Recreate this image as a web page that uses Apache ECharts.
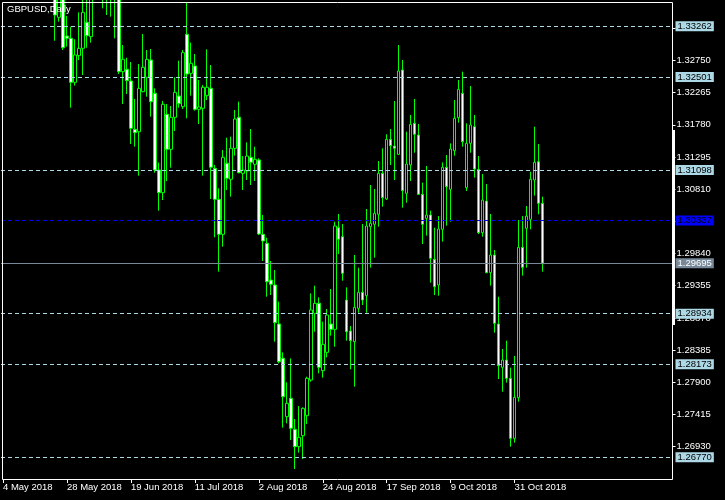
<!DOCTYPE html>
<html>
<head>
<meta charset="utf-8">
<script src="https://cdn.jsdelivr.net/npm/echarts@6/dist/echarts.min.js"></script>
<style>html,body{margin:0;padding:0;background:#000;}#c{width:725px;height:500px;}</style>
</head>
<body>
<div id="c"></div>
<script>
// ---- data (GBPUSD daily, weekdays from 4 May 2018) ----
const openV = [1.3525,1.3530,1.3545,1.3565,1.3530,1.3550,1.3540,1.3565,1.3500,1.3490,1.3510,1.3470,1.3445,1.3420,1.33398,1.3378,1.33117,1.33082,1.32419,1.32821,
1.32931,1.33323,1.33107,1.3372,1.3410,1.3405,1.3412,1.3378,1.3368,1.3402,1.32580,1.32615,1.32439,1.31711,1.31676,1.32278,1.32494,1.32755,1.32253,1.31098,
1.30757,1.31937,1.31410,1.31892,1.32213,1.32052,1.33142,1.32554,1.32665,1.32012,1.32027,1.32218,1.32328,1.31123,1.30656,1.30129,1.31199,1.30958,1.31425,1.31892,
1.31048,1.31083,1.31289,1.31184,1.31249,1.30129,1.29994,1.29441,1.29366,1.28779,1.28261,1.27383,1.27659,1.27192,1.26931,1.27097,1.27398,1.27935,1.28939,1.29090,
1.28076,1.28352,1.28779,1.28698,1.30230,1.30094,1.29140,1.28673,1.28513,1.29015,1.29256,1.29205,1.30245,1.30280,1.30431,1.31048,1.30662,1.31560,1.31460,1.31334,
1.32605,1.30747,1.31174,1.31801,1.31626,1.30732,1.30370,1.30421,1.29753,1.29366,1.30205,1.31139,1.30807,1.31390,1.31887,1.32253,1.30832,1.31500,1.31751,1.31108,
1.30154,1.30631,1.29552,1.29818,1.28779,1.28126,1.28236,1.27960,1.27056,1.27669,1.29933,1.30220,1.30355,1.30948,1.31224,1.30596];
const highV = [1.3570,1.3560,1.3600,1.3590,1.3610,1.3605,1.3600,1.3575,1.3520,1.3530,1.3525,1.3480,1.3460,1.3430,1.3392,1.3395,1.33418,1.33257,1.33067,1.33473,
1.3372,1.3368,1.3385,1.3420,1.3472,1.3435,1.3425,1.3408,1.3412,1.3408,1.32981,1.32790,1.32725,1.32168,1.32695,1.33147,1.32906,1.32921,1.32328,1.31209,
1.32138,1.32093,1.32062,1.32494,1.32745,1.32906,1.33625,1.33016,1.32846,1.32454,1.32379,1.32916,1.32680,1.31174,1.30822,1.31400,1.31585,1.31600,1.32002,1.32128,
1.31309,1.31515,1.31716,1.31450,1.31274,1.30421,1.30079,1.29728,1.29592,1.29115,1.28352,1.27900,1.28261,1.27348,1.27543,1.27523,1.27985,1.29241,1.29356,1.29180,
1.28814,1.29005,1.29306,1.30320,1.30436,1.30285,1.29331,1.28749,1.29818,1.29627,1.30285,1.30511,1.30872,1.30812,1.31234,1.31425,1.31636,1.31716,1.32138,1.32981,
1.32755,1.31676,1.31927,1.32168,1.31791,1.30908,1.31159,1.30486,1.30230,1.30405,1.31214,1.31324,1.31500,1.32153,1.32454,1.32580,1.31801,1.32364,1.31927,1.31309,
1.31038,1.30887,1.30436,1.29893,1.29190,1.28402,1.28528,1.28121,1.28297,1.30345,1.30405,1.30556,1.31073,1.31751,1.31490,1.30697];
const lowV = [1.3485,1.3500,1.3510,1.3460,1.3480,1.3500,1.3520,1.3455,1.3450,1.3470,1.3450,1.3410,1.3390,1.33046,1.33333,1.32906,1.32956,1.32037,1.32369,1.32755,
1.32529,1.32941,1.33016,1.3366,1.3390,1.33533,1.33433,1.33408,1.33082,1.32544,1.32093,1.32243,1.31490,1.31450,1.31013,1.32270,1.32203,1.31902,1.31058,1.30486,
1.30646,1.30933,1.31133,1.31686,1.32037,1.32017,1.31877,1.32218,1.31992,1.31791,1.31013,1.32153,1.30662,1.30084,1.29567,1.29943,1.30797,1.30697,1.31314,1.31048,
1.30797,1.30948,1.30872,1.30933,1.30119,1.29728,1.29190,1.29215,1.28513,1.28186,1.27217,1.27282,1.27031,1.26595,1.26841,1.26745,1.27272,1.27910,1.28663,1.28035,
1.27970,1.28277,1.28603,1.28437,1.29833,1.29431,1.28528,1.28096,1.27835,1.28949,1.29065,1.28949,1.29627,1.29778,1.30245,1.30546,1.30646,1.31174,1.30948,1.31324,
1.30531,1.30606,1.30933,1.31359,1.30722,1.29984,1.30109,1.29401,1.29215,1.29205,1.30019,1.30260,1.30320,1.31314,1.31811,1.31450,1.30782,1.31359,1.30983,1.30134,
1.30094,1.29545,1.29356,1.28648,1.27950,1.27759,1.27895,1.26931,1.26991,1.27609,1.29507,1.29627,1.30205,1.30712,1.30431,1.29567];
const closeV = [1.3530,1.3545,1.3565,1.3530,1.3550,1.3540,1.3565,1.3500,1.3490,1.3510,1.3470,1.3445,1.3420,1.33433,1.3378,1.32941,1.33082,1.32419,1.32831,1.32931,
1.33473,1.33122,1.3372,1.3410,1.3405,1.3412,1.3378,1.3368,1.3402,1.32580,1.32765,1.32444,1.31726,1.31661,1.32328,1.32645,1.32765,1.32128,1.31098,1.30757,
1.32088,1.31410,1.31892,1.32268,1.32098,1.32866,1.32544,1.32705,1.32012,1.32047,1.32344,1.32344,1.31139,1.30656,1.30129,1.31289,1.30973,1.31425,1.31867,1.31058,
1.31098,1.31309,1.31214,1.31259,1.30134,1.30029,1.29416,1.29376,1.28799,1.28211,1.27684,1.27584,1.27207,1.26931,1.27071,1.27508,1.27960,1.28990,1.29090,1.28126,
1.28472,1.28914,1.28698,1.30255,1.30054,1.29542,1.28663,1.28528,1.29030,1.29256,1.29140,1.30255,1.30295,1.30446,1.31048,1.30682,1.31560,1.31465,1.31425,1.32590,
1.30787,1.31189,1.31786,1.31636,1.30732,1.30280,1.30421,1.29768,1.29341,1.30210,1.31139,1.30847,1.31415,1.31877,1.32313,1.31525,1.31500,1.31776,1.31113,1.30154,
1.30646,1.29552,1.29818,1.28789,1.28151,1.28236,1.27960,1.27056,1.27674,1.29933,1.29632,1.30405,1.30958,1.31214,1.30596,1.29695];

const yTicks = [1.26930,1.27415,1.27900,1.28385,1.28870,1.29355,1.29840,1.30325,1.30810,1.31295,1.31780,1.32265,1.32750,1.33235];
const pivotLevels = [1.33262,1.32501,1.31098,1.28934,1.28173,1.26770];
const blueLevel = 1.30337;
const bidLevel = 1.29695;
const yMin = 1.26444, yMax = 1.33629;
const totalSlots = 168;

// categories: trading weekdays starting 4 May 2018, then empty shift area
const MONTHS = ['Jan','Feb','Mar','Apr','May','Jun','Jul','Aug','Sep','Oct','Nov','Dec'];
const categories = [];
{
  const d = new Date(Date.UTC(2018,4,4));
  while (categories.length < openV.length) {
    const wd = d.getUTCDay();
    if (wd !== 0 && wd !== 6) categories.push(d.getUTCDate()+' '+MONTHS[d.getUTCMonth()]+' '+d.getUTCFullYear());
    d.setUTCDate(d.getUTCDate()+1);
  }
  while (categories.length < totalSlots) categories.push('');
}
const ohlc = openV.map((o,i)=>[o, closeV[i], lowV[i], highV[i]]);

const FONT = 'Liberation Sans';
const FS = 9.5;
function lvl(v, color, textColor, dashed){
  return {
    yAxis: v,
    lineStyle: {color: color, width: 1, type: dashed ? [4,3] : 'solid'},
    label: {
      show: true, position: 'end', distance: 3,
      formatter: () => v.toFixed(5),
      color: textColor, backgroundColor: color,
      fontSize: FS, fontFamily: FONT, lineHeight: 10, padding: [0,2,0,2]
    }
  };
}
const lineData = pivotLevels.map(v=>lvl(v,'#ADD8E6','#000',true))
  .concat([lvl(blueLevel,'#0000FF','#000',true), lvl(bidLevel,'#778899','#fff',false)]);

const showIdx = (i,v) => i % 16 === 0 && v !== '';
const chart = echarts.init(document.getElementById('c'), null, {renderer:'canvas'});
chart.setOption({
  backgroundColor: '#000',
  animation: false,
  title: {text:'GBPUSD,Daily', left:7, top:4, padding:0,
    textStyle:{color:'#fff', fontSize:FS, fontWeight:'normal', fontFamily:FONT}},
  grid: {left:0.5, right:52.5, top:2, bottom:21, show:false},
  xAxis: {
    type:'category', data: categories, boundaryGap: true,
    axisLine:{show:false},
    axisTick:{show:true, length:4, alignWithLabel:true, interval: showIdx, lineStyle:{color:'#fff'}},
    axisLabel:{interval: showIdx, align:'left', margin:3, color:'#fff', fontSize:FS, fontFamily:FONT},
    splitLine:{show:false}
  },
  yAxis: {
    type:'value', position:'right', min:yMin, max:yMax, scale:true,
    axisLine:{show:false},
    axisTick:{show:true, length:3, customValues: yTicks, lineStyle:{color:'#fff'}},
    axisLabel:{customValues: yTicks, margin:4, color:'#fff', fontSize:FS, fontFamily:FONT,
      formatter: v => v.toFixed(5)},
    splitLine:{show:false}
  },
  graphic: [
    {type:'rect', shape:{x:2.5, y:2.5, width:670, height:477}, style:{fill:'none', stroke:'#fff', lineWidth:1}, z:10, silent:true},
    {type:'rect', shape:{x:672, y:130, width:3, height:195}, style:{fill:'#fff'}, z:10, silent:true}
  ],
  series: [{
    type:'candlestick', data: ohlc, barWidth: 3, clip: true,
    itemStyle:{color:'#000', color0:'#fff', borderColor:'#00FF00', borderColor0:'#00FF00', borderWidth:1},
    markLine:{silent:true, precision:5, symbol:['none','none'], animation:false, data: lineData}
  }]
});
</script>
</body>
</html>
